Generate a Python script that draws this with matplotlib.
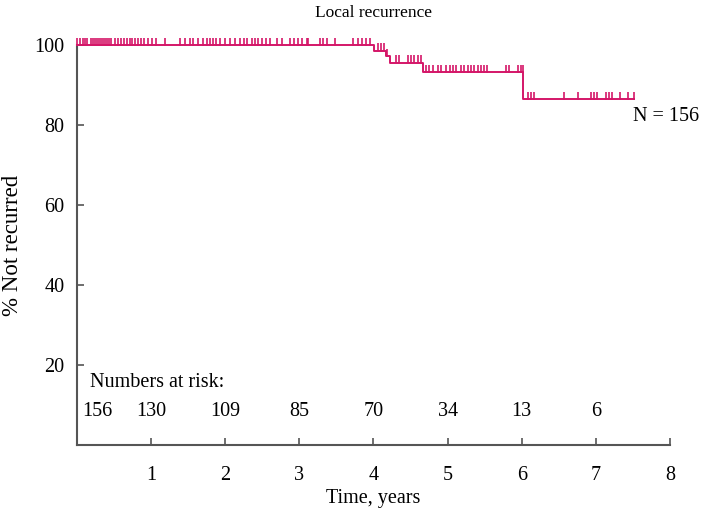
import numpy as np
import matplotlib
matplotlib.use("Agg")
import matplotlib.pyplot as plt

plt.rcParams['font.family'] = ['Liberation Serif', 'DejaVu Serif']

# Kaplan-Meier steps (time in years, % not recurred)
step_times = [0.0, 4.01, 4.17, 4.22, 4.67, 6.02, 7.52]
step_surv = [100.0, 98.6, 97.2, 95.6, 93.2, 86.5, 86.5]

censor_px = [
    77, 80, 83, 85, 87, 91, 93, 95, 97, 99, 101, 103, 105, 107, 109, 111,
    115, 118, 121, 124, 127, 130, 132, 135, 138, 141, 144, 148, 152, 156,
    165, 180, 185, 190, 193, 198, 203, 207, 210, 213, 216, 220, 225, 230,
    235, 240, 244, 247, 252, 255, 258, 262, 266, 270, 277, 282, 290, 294,
    298, 302, 307, 308, 320, 323, 327, 335, 353, 358, 362, 366, 370,
    377, 380, 383, 386, 395, 398, 407, 410, 413, 417, 420,
    425, 428, 432, 437, 440, 445, 449, 452, 455, 460, 463, 467, 470, 473,
    477, 480, 483, 486, 505, 508, 517, 520, 522,
    527, 530, 533, 563, 577, 590, 593, 596, 605, 608, 611, 619, 627, 633,
]
censor_times = [(p - 77) / 74.0 for p in censor_px]

risk_times = [0.28, 1, 2, 3, 4, 5, 6, 7]
risk_counts = ['156', '130', '109', '85', '70', '34', '13', '6']

color = '#d41668'
fs = 14.5


def surv_at(t):
    idx = np.searchsorted(step_times, t, side='right') - 1
    return step_surv[max(idx, 0)]


fig = plt.figure(figsize=(7.02, 5.16), dpi=100)
ax = fig.add_axes([0.1097, 0.1376, 0.8447, 0.7752])

ax.step(step_times, step_surv, where='post', color=color, lw=1.4,
        clip_on=False, zorder=3)
levels = [surv_at(t) for t in censor_times]
ax.vlines(censor_times, [l - 0.2 for l in levels], [l + 1.8 for l in levels],
          color=color, lw=1.2, clip_on=False, zorder=3)

ax.set_xlim(0, 8)
ax.set_ylim(0, 100)
ax.set_xticks(range(1, 9))
ax.set_yticks([20, 40, 60, 80, 100])
ax.tick_params(direction='in', length=5, width=1.2, color='#555555',
               labelsize=fs)
ax.tick_params(axis='x', pad=15)
ax.tick_params(axis='y', pad=9)

for s in ['top', 'right']:
    ax.spines[s].set_visible(False)
for s in ['left', 'bottom']:
    ax.spines[s].set_color('#555555')
    ax.spines[s].set_linewidth(1.5)

ax.set_xlabel('Time, years', fontsize=fs, labelpad=3)
fig.text(13 / 702, 0.525, '% Not recurred', fontsize=16.5, rotation=90,
         ha='center', va='center')
ax.set_title('Local recurrence', fontsize=12.5, pad=20)

ax.text(0.18, 15.6, 'Numbers at risk:', fontsize=fs, va='center')
for t, n in zip(risk_times, risk_counts):
    ax.text(t, 8.3, n, fontsize=fs, ha='center', va='center')

ax.text(7.5, 82, 'N = 156', fontsize=fs, ha='left', va='center',
        clip_on=False)

fig.savefig('out.png', dpi=100)
